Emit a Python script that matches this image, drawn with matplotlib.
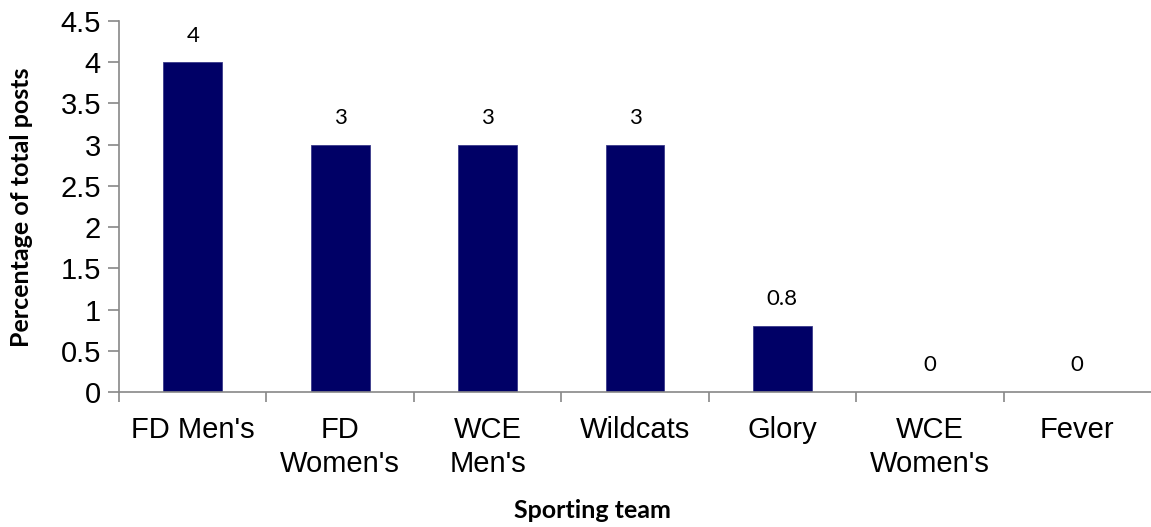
import matplotlib.pyplot as plt
import numpy as np

# data
teams = ["FD Men's", "FD\nWomen's", "WCE\nMen's", "Wildcats", "Glory", "WCE\nWomen's", "Fever"]
values = [4, 3, 3, 3, 0.8, 0, 0]
value_labels = ["4", "3", "3", "3", "0.8", "0", "0"]
yticks = [0, 0.5, 1, 1.5, 2, 2.5, 3, 3.5, 4, 4.5]
ytick_labels = ["0", "0.5", "1", "1.5", "2", "2.5", "3", "3.5", "4", "4.5"]

fig = plt.figure(figsize=(11.51, 5.27), dpi=100)
ax = fig.add_axes([119/1151, 1 - 392/527, 1 - 119/1151, (392 - 21)/527])

x = np.arange(len(teams))
bars = ax.bar(x, values, width=0.4, color="#000066", edgecolor="#3a3a8a", linewidth=0.6)

# value labels above bars
for xi, v, lab in zip(x, values, value_labels):
    ax.annotate(lab, (xi, v), xytext=(0, 12), textcoords="offset points",
                ha="center", va="bottom", fontsize=16, family="Lato")

ax.set_xlim(-0.5, len(teams) - 0.5)
ax.set_ylim(0, 4.5)
ax.set_yticks(yticks)
ax.set_yticklabels(ytick_labels, fontsize=21, family="Liberation Sans")

# category labels centred, tick marks between categories
ax.set_xticks(x)
ax.set_xticklabels(teams, fontsize=21, family="Liberation Sans", linespacing=1.3)
ax.set_xticks(np.arange(-0.5, len(teams) - 0.5, 1), minor=True)
ax.tick_params(axis="x", which="major", length=0, pad=17)
ax.tick_params(axis="x", which="minor", length=7, color="#888888", width=1.2)
ax.tick_params(axis="y", length=8, color="#888888", width=1.2, pad=5)

for s in ["top", "right"]:
    ax.spines[s].set_visible(False)
for s in ["left", "bottom"]:
    ax.spines[s].set_color("#888888")
    ax.spines[s].set_linewidth(1.2)

fig.text(22/1151, 1 - 207/527, "Percentage of total posts", rotation=90,
         ha="center", va="center", fontsize=18, fontweight="bold", family="Lato")
fig.text(592/1151, 1 - 510/527, "Sporting team", ha="center", va="center",
         fontsize=18, fontweight="bold", family="Lato")

fig.savefig("out.png", dpi=100)
